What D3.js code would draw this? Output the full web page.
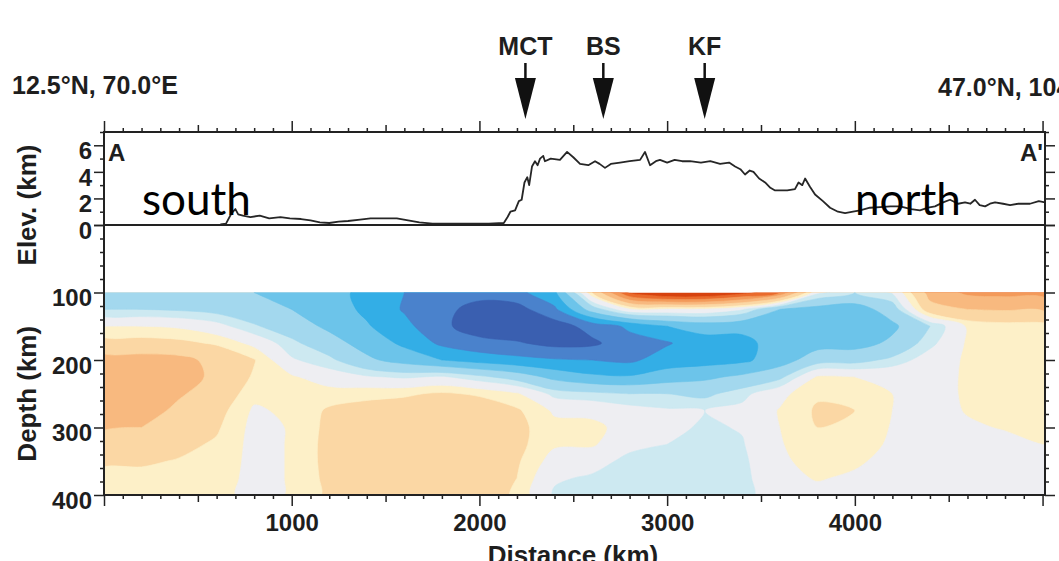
<!DOCTYPE html>
<html><head><meta charset="utf-8">
<script src="https://cdn.jsdelivr.net/npm/d3@7"></script>
<style>body{margin:0;background:#fff}svg{display:block}</style>
</head><body>
<svg id="c" width="1059" height="561"></svg>
<script>
// ---------------- DATA ----------------
const distances = [0,200,400,600,800,1000,1200,1400,1600,1800,2000,2200,2400,2600,2800,3000,3200,3400,3600,3800,4000,4200,4400,4600,4800,5000];
const depths = [100,125,150,175,200,225,250,275,300,325,350,375,400];
// velocity anomaly rows (positive = fast / blue, negative = slow / red)
const dv100 = [1.6,1.6,1.7,1.8,2.0,2.2,2.6,3.3,4.0,4.5,4.6,4.3,3.2,-1.0,-5.2,-6.5,-6.5,-5.5,-4.0,0.2,1.0,0.3,-2.4,-3.2,-3.3,-3.3];
const dv125 = [1.0,1.0,1.1,1.3,1.6,2.0,2.5,3.2,4.1,4.7,5.4,5.4,4.2,1.5,-0.3,-0.3,-0.3,0.3,2.0,2.4,2.5,1.5,-1.6,-2.0,-2.1,-2.1];
const dv150 = [-0.4,-0.4,-0.3,0.1,0.9,1.5,2.2,2.9,3.7,4.8,5.5,5.7,5.5,4.6,3.8,3.0,2.6,2.8,2.6,2.6,2.6,2.2,1.0,-0.5,-0.7,-0.7];
const dv175 = [-1.3,-1.3,-1.2,-0.9,-0.2,0.8,1.6,2.4,3.2,4.2,4.7,4.9,5.3,5.2,4.4,4.1,3.4,3.2,2.7,2.4,2.4,1.8,0.6,-0.5,-0.7,-0.8];
const dv200 = [-2.4,-2.4,-2.3,-1.7,-1.05,0.3,0.8,1.8,2.4,3.0,3.4,3.7,3.9,4.0,4.2,3.5,3.4,3.2,2.5,1.4,1.3,0.8,0.0,-0.5,-0.7,-0.8];
const dv225 = [-2.6,-2.5,-2.4,-1.8,-0.9,-0.5,0.0,0.3,0.5,0.3,0.8,1.4,2.3,2.8,2.9,2.5,2.2,1.8,1.2,-0.5,-0.4,-0.3,-0.1,-0.5,-0.7,-0.8];
const dv250 = [-2.6,-2.5,-2.1,-1.6,-0.6,-0.6,-0.7,-0.8,-0.9,-1.1,-0.9,-0.5,0.6,0.8,1.0,1.0,1.2,0.6,-0.2,-0.9,-0.8,-0.4,-0.1,-0.5,-0.7,-0.8];
const dv275 = [-2.5,-2.4,-1.8,-1.3,-0.3,-0.55,-1.1,-1.3,-1.4,-1.5,-1.5,-1.1,-0.3,-0.2,0.1,0.3,0.4,0.2,-0.45,-1.1,-1.0,-0.4,-0.1,-0.45,-0.6,-0.7];
const dv300 = [-2.1,-2.0,-1.5,-1.1,-0.2,-0.45,-1.2,-1.5,-1.5,-1.6,-1.6,-1.2,-0.6,-0.6,-0.1,0.2,0.5,0.35,-0.4,-1.0,-0.9,-0.35,-0.1,-0.3,-0.45,-0.6];
const dv325 = [-1.5,-1.5,-1.2,-0.9,-0.2,-0.45,-1.25,-1.6,-1.6,-1.6,-1.6,-1.2,-0.5,-0.5,0.2,0.4,0.7,0.45,-0.35,-0.8,-0.7,-0.3,0.0,-0.1,-0.2,-0.4];
const dv350 = [-1.1,-1.1,-0.95,-0.8,-0.2,-0.45,-1.25,-1.6,-1.6,-1.6,-1.6,-1.1,-0.1,0.1,0.6,0.7,0.8,0.55,-0.3,-0.6,-0.5,-0.2,0.0,0.0,0.0,-0.1];
const dv375 = [-0.8,-0.8,-0.8,-0.7,-0.2,-0.45,-1.2,-1.5,-1.5,-1.5,-1.5,-1.0,0.3,0.5,0.7,0.8,0.8,0.6,-0.2,-0.45,-0.3,-0.1,0.0,0.0,0.0,0.0];
const dv400 = [-0.7,-0.7,-0.7,-0.6,-0.2,-0.45,-1.15,-1.4,-1.4,-1.4,-1.4,-0.9,0.5,0.6,0.7,0.8,0.8,0.6,0.0,-0.2,-0.1,0.0,0.0,0.0,0.0,0.0];
const dvRows = [dv100,dv125,dv150,dv175,dv200,dv225,dv250,dv275,dv300,dv325,dv350,dv375,dv400];

const levelThresholds = [-5,-4,-3,-2,-1,-0.4,0.4,1,2,3,4,5];
const levelColors = ["#d6420e","#e96a2c","#f39a5a","#f8b97f","#fbd7a4","#fdf0c8","#eeeef2","#cde9f1","#a3d8ee","#6cc4ea","#33aee6","#4a82cc","#3a5fb0"];

// topography along profile
const elevDist = [620,650,680,700,715,740,780,830,880,940,990,1050,1100,1150,1200,1250,1300,1364,1420,1500,1560,1620,1680,1750,1850,1950,2050,2130,2150,2165,2190,2210,2225,2240,2255,2265,2280,2296,2310,2323,2340,2349,2380,2429,2467,2500,2536,2580,2616,2640,2669,2700,2749,2800,2856,2882,2909,2940,2962,3000,3040,3080,3122,3180,3230,3282,3330,3362,3390,3415,3440,3460,3490,3522,3550,3575,3640,3681,3700,3720,3735,3760,3788,3830,3868,3910,3948,3990,4028,4080,4134,4190,4241,4300,4347,4390,4427,4470,4507,4550,4587,4615,4640,4665,4694,4720,4747,4790,4827,4870,4933,4980,5013];
const elevKm = [0.05,0.1,0.9,1.2,0.8,0.7,0.6,0.7,0.5,0.6,0.5,0.45,0.35,0.2,0.15,0.25,0.3,0.4,0.5,0.5,0.5,0.35,0.2,0.1,0.1,0.1,0.1,0.15,0.6,1.0,1.1,1.8,1.9,3.2,3.6,3.0,4.4,4.8,4.5,5.0,5.2,4.8,5.0,4.9,5.5,5.1,4.6,4.5,4.8,4.6,4.3,4.6,4.7,4.8,4.9,5.5,4.5,4.8,4.9,4.7,4.9,4.8,4.8,4.7,4.8,4.6,4.7,4.4,4.2,3.8,4.1,4.0,3.5,3.2,2.8,2.6,2.6,2.7,3.2,3.0,3.5,2.9,2.3,1.8,1.3,1.0,0.9,1.0,1.1,1.3,1.35,1.4,1.4,1.2,1.1,1.3,1.4,1.7,1.9,1.6,1.7,1.6,1.9,1.5,1.4,1.6,1.7,1.6,1.5,1.6,1.6,1.8,1.7];

const faultNames = ["MCT","BS","KF"];
const faultDist = [2245,2660,3200];

const xMajorTicks = [0,1000,2000,3000,4000,5000];
const xLabelTicks = [1000,2000,3000,4000];
const elevLabelTicks = [0,2,4,6];
const depthLabelTicks = [100,200,300,400];
const startPoint = "12.5°N, 70.0°E";
const endPoint = "47.0°N, 104.0°E";

// ---------------- SCALES ----------------
const svg = d3.select("#c");
const FONT = "'Liberation Sans', Arial, Helvetica, sans-serif";
const x = d3.scaleLinear().domain([0, 5013]).range([104, 1045]);
const yE = d3.scaleLinear().domain([0, 7]).range([225, 132]);
const yD = d3.scaleLinear().domain([0, 400]).range([225, 495]);

// ---------------- FIELD ----------------
const n = distances.length, m = depths.length;
const gx = d3.scaleLinear().domain([0.5, n - 0.5]).range([distances[0], distances[n - 1]]);
const gy = d3.scaleLinear().domain([0.5, m - 0.5]).range([depths[0], depths[m - 1]]);
const values = dvRows.flat();
const bands = d3.contours().size([n, m]).thresholds(levelThresholds)(values);

const defs = svg.append("defs");
defs.append("clipPath").attr("id", "fieldClip").append("rect")
  .attr("x", x(0)).attr("y", yD(100)).attr("width", x(5013) - x(0)).attr("height", yD(400) - yD(100));
defs.append("clipPath").attr("id", "elevClip").append("rect")
  .attr("x", x(0)).attr("y", yE(7)).attr("width", x(5013) - x(0)).attr("height", yE(0) - yE(7));

const field = svg.append("g").attr("clip-path", "url(#fieldClip)");
field.append("rect").attr("x", x(0)).attr("y", yD(100)).attr("width", x(5013) - x(0)).attr("height", yD(400) - yD(100)).attr("fill", levelColors[0]);
const ring = d3.line().x(p => x(gx(p[0]))).y(p => yD(gy(p[1]))).curve(d3.curveCatmullRomClosed.alpha(0.5));
bands.forEach((b, i) => {
  const d = b.coordinates.map(poly => poly.map(r => ring(r.slice(0, -1))).join("")).join("");
  if (d) field.append("path").attr("d", d).attr("fill", levelColors[i + 1]).attr("fill-rule", "evenodd")
    .attr("stroke", levelColors[i + 1]).attr("stroke-width", 0.6);
});

// ---------------- ELEVATION ----------------
const elev = d3.zip(elevDist, elevKm);
svg.append("path").datum(elev).attr("clip-path", "url(#elevClip)")
  .attr("d", d3.line().x(d => x(d[0])).y(d => yE(d[1])))
  .attr("fill", "none").attr("stroke", "#262626").attr("stroke-width", 1.8).attr("stroke-linejoin", "round");

// ---------------- AXES ----------------
function style(g, size) {
  g.select(".domain").remove();
  g.selectAll("line").attr("stroke", "#222").attr("stroke-width", 1.5);
  g.selectAll("text").attr("font-family", FONT).attr("font-weight", "bold").attr("font-size", size || 24).attr("fill", "#1e1e1e");
}
const xAll = d3.range(0, 5001, 100);
const xMed = xAll.filter(v => v % 1000 === 500);
const xMin = xAll.filter(v => v % 500 !== 0);
// top
[[xMin, 4], [xMed, 7], [xMajorTicks, 11]].forEach(([tv, s]) => {
  svg.append("g").attr("transform", `translate(0,${yE(7)})`)
    .call(d3.axisTop(x).tickValues(tv).tickSize(s).tickFormat("")).call(style);
});
// bottom
[[xMin, 4], [xMed, 7]].forEach(([tv, s]) => {
  svg.append("g").attr("transform", `translate(0,${yD(400)})`)
    .call(d3.axisBottom(x).tickValues(tv).tickSize(s).tickFormat("")).call(style);
});
svg.append("g").attr("transform", `translate(0,${yD(400)})`)
  .call(d3.axisBottom(x).tickValues(xMajorTicks).tickSize(11).tickPadding(8)
    .tickFormat(d => xLabelTicks.includes(d) ? d : "")).call(style);

// left / right
const eMin = [1, 3, 5, 7];
const dMin = d3.range(20, 400, 20).filter(v => v % 100 !== 0);
const sides = [[d3.axisLeft, x(0)], [d3.axisRight, x(5013)]];
sides.forEach(([ax, px], si) => {
  svg.append("g").attr("transform", `translate(${px},0)`).call(ax(yE).tickValues(eMin).tickSize(4).tickFormat("")).call(style);
  svg.append("g").attr("transform", `translate(${px},0)`).call(ax(yD).tickValues(dMin).tickSize(4).tickFormat("")).call(style);
  const ge = svg.append("g").attr("transform", `translate(${px},0)`)
    .call(ax(yE).tickValues(elevLabelTicks).tickSize(10).tickPadding(2).tickFormat(si === 0 ? d3.format("d") : "")).call(style);
  const gd = svg.append("g").attr("transform", `translate(${px},0)`)
    .call(ax(yD).tickValues(depthLabelTicks.concat([0])).tickSize(10).tickPadding(2)
      .tickFormat(d => (si === 0 && d > 0) ? d : "")).call(style);
  ge.selectAll("text").attr("dy", "0.55em");
  gd.selectAll("text").attr("dy", "0.55em");
});

// frame + zero line
svg.append("rect").attr("x", x(0)).attr("y", yE(7)).attr("width", x(5013) - x(0)).attr("height", yD(400) - yE(7))
  .attr("fill", "none").attr("stroke", "#222").attr("stroke-width", 2);
svg.append("line").attr("x1", x(0)).attr("x2", x(5013)).attr("y1", yE(0)).attr("y2", yE(0))
  .attr("stroke", "#222").attr("stroke-width", 2);

// ---------------- FAULT ARROWS ----------------
faultNames.forEach((name, i) => {
  const fx = x(faultDist[i]);
  svg.append("line").attr("x1", fx).attr("x2", fx).attr("y1", 63).attr("y2", 82).attr("stroke", "#111").attr("stroke-width", 2.5);
  svg.append("path").attr("d", `M${fx - 10.5},78L${fx + 10.5},78L${fx},119Z`).attr("fill", "#111");
  svg.append("text").attr("x", fx).attr("y", 55).attr("text-anchor", "middle")
    .attr("font-family", FONT).attr("font-weight", "bold").attr("font-size", 25).attr("fill", "#1e1e1e").text(name);
});

// ---------------- TEXT ----------------
function label(t, xx, yy, opts = {}) {
  return svg.append("text").attr("x", xx).attr("y", yy).attr("font-family", opts.family || FONT)
    .attr("font-weight", opts.weight || "bold").attr("font-size", opts.size || 25)
    .attr("text-anchor", opts.anchor || "start").attr("fill", opts.fill || "#1e1e1e").text(t);
}
label(startPoint, 12, 94);
label(endPoint, 938, 96);
label("A", 108, 161, { size: 24 });
label("A'", 1043, 161, { size: 24, anchor: "end" });
label("south", 142, 215, { family: "Lato, 'Open Sans', sans-serif", weight: "normal", size: 44, fill: "#000" });
label("north", 855, 215, { family: "Lato, 'Open Sans', sans-serif", weight: "normal", size: 44, fill: "#000" });
label("Distance (km)", 573, 564, { size: 26, anchor: "middle" });
svg.append("text").attr("transform", `translate(36,205) rotate(-90)`)
  .attr("text-anchor", "middle").attr("font-family", FONT).attr("font-weight", "bold").attr("font-size", 26)
  .attr("fill", "#1e1e1e").text("Elev. (km)");
svg.append("text").attr("transform", `translate(36,${yD(250)}) rotate(-90)`)
  .attr("text-anchor", "middle").attr("font-family", FONT).attr("font-weight", "bold").attr("font-size", 26)
  .attr("fill", "#1e1e1e").text("Depth (km)");
</script>
</body></html>
